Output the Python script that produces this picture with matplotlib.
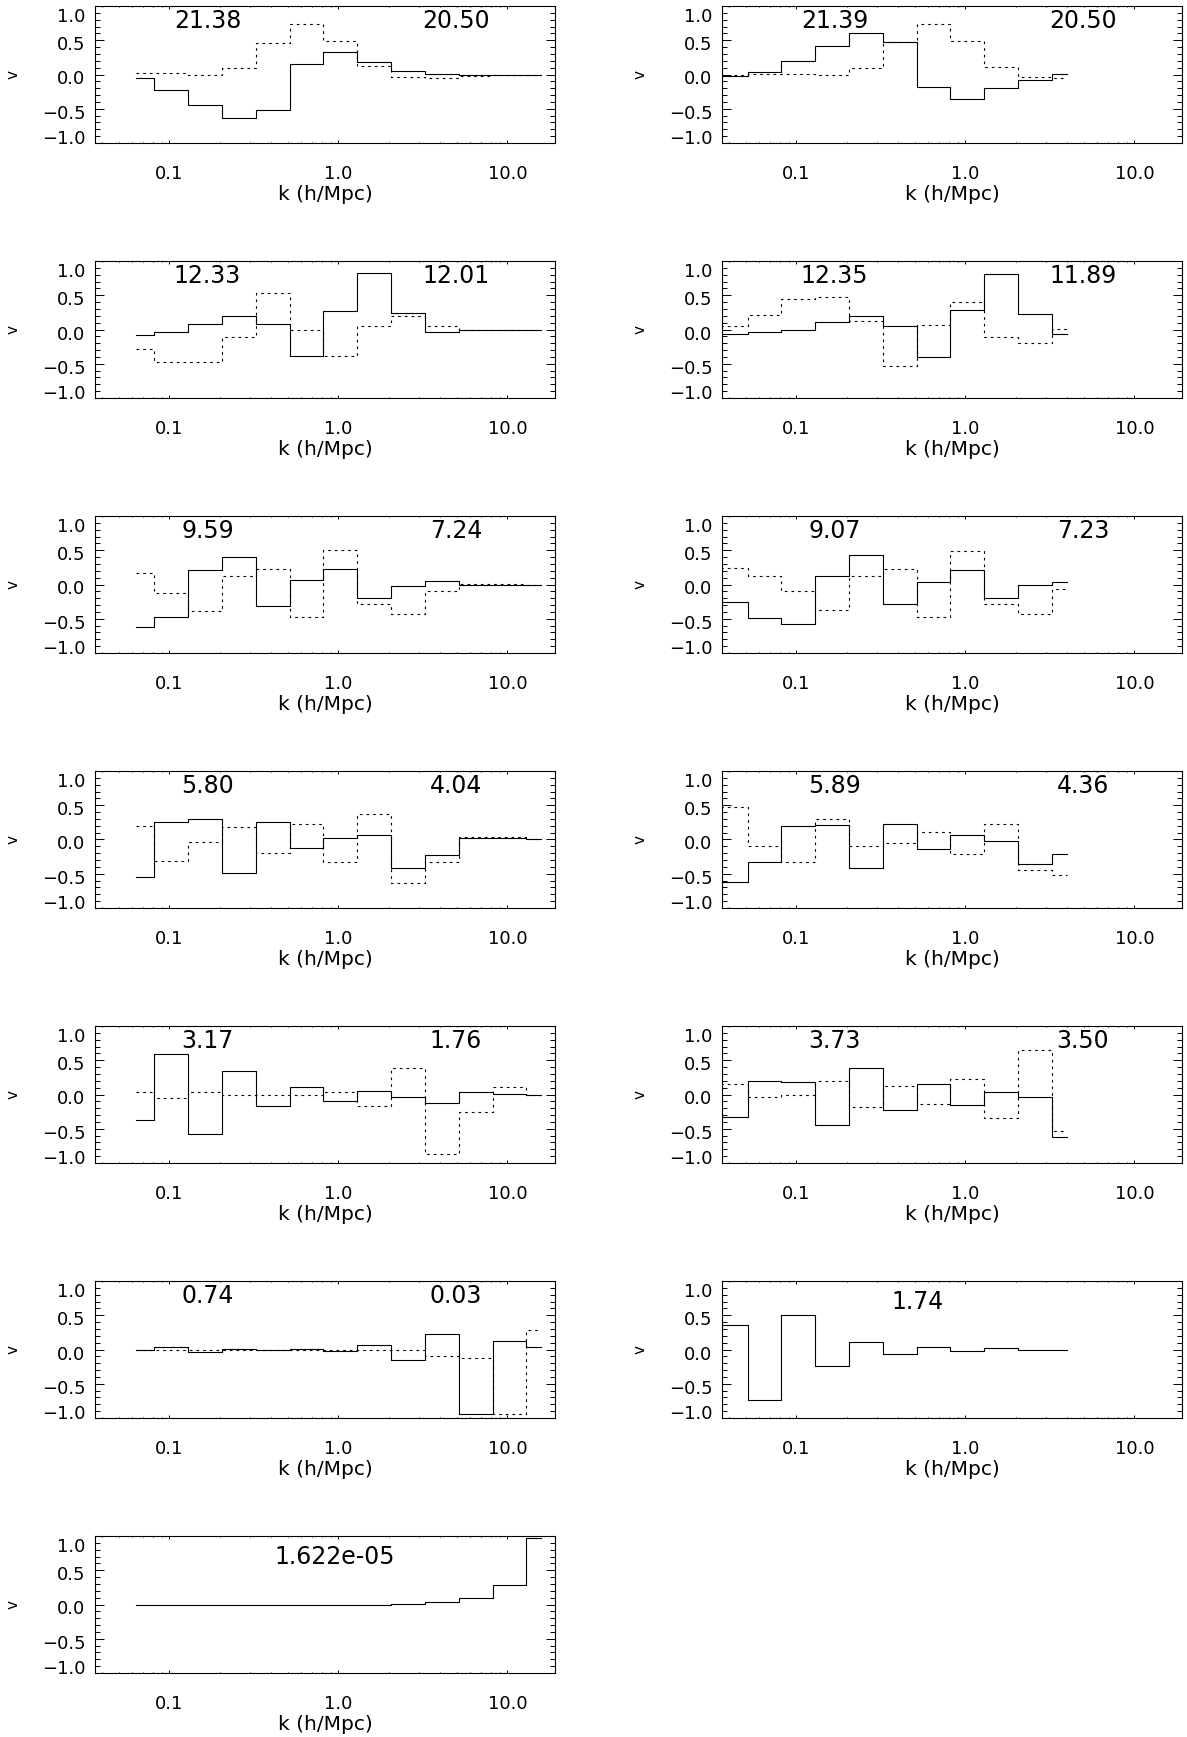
import numpy as np
import matplotlib
matplotlib.use('Agg')
import matplotlib.pyplot as plt
from matplotlib.ticker import FixedLocator, FixedFormatter, LogLocator, MultipleLocator, NullFormatter
from matplotlib.transforms import ScaledTranslation

nan = np.nan

# k bins (h/Mpc), left and right column runs
k_left = [0.0631, 0.1, 0.1585, 0.2512, 0.3981, 0.631, 1.0, 1.585, 2.512, 3.981, 6.31, 10.0, 15.85]
k_right = [0.0251, 0.0398, 0.0631, 0.1, 0.1585, 0.2512, 0.3981, 0.631, 1.0, 1.585, 2.512, 3.981]

# row 1
p1_solid = [-0.05, -0.23, -0.44, -0.64, -0.52, 0.15, 0.33, 0.18, 0.05, 0.01, -0.01, 0.0, 0.0]
p1_dotted = [0.02, 0.02, -0.01, 0.10, 0.46, 0.73, 0.49, 0.12, -0.04, -0.05, -0.02, 0.0, 0.0]
p2_solid = [nan, -0.02, 0.03, 0.20, 0.41, 0.61, 0.48, -0.18, -0.36, -0.20, -0.08, 0.01]
p2_dotted = [nan, 0.0, 0.01, 0.01, -0.01, 0.10, 0.47, 0.73, 0.49, 0.11, -0.03, -0.05]
# row 2
p3_solid = [-0.08, -0.03, 0.08, 0.20, 0.08, -0.39, 0.27, 0.82, 0.24, -0.04, -0.01, 0.0, 0.0]
p3_dotted = [-0.29, -0.47, -0.47, -0.11, 0.53, -0.01, -0.39, 0.05, 0.19, 0.05, 0.0, 0.0, 0.0]
p4_solid = [nan, -0.07, -0.03, 0.0, 0.11, 0.20, 0.05, -0.40, 0.29, 0.81, 0.22, -0.07]
p4_dotted = [nan, 0.05, 0.21, 0.44, 0.48, 0.12, -0.54, 0.06, 0.40, -0.11, -0.20, 0.01]
# row 3
p5_solid = [-0.62, -0.47, 0.21, 0.40, -0.32, 0.07, 0.22, -0.20, -0.02, 0.05, -0.01, 0.0, 0.0]
p5_dotted = [0.17, -0.13, -0.38, 0.13, 0.22, -0.48, 0.50, -0.28, -0.43, -0.10, 0.01, 0.01, 0.0]
p6_solid = [nan, -0.26, -0.49, -0.57, 0.12, 0.43, -0.28, 0.04, 0.21, -0.20, 0.0, 0.04]
p6_dotted = [nan, 0.24, 0.13, -0.09, -0.37, 0.12, 0.23, -0.48, 0.49, -0.28, -0.43, -0.07]
# row 4
p7_solid = [-0.55, 0.25, 0.30, -0.49, 0.25, -0.12, 0.02, 0.07, -0.41, -0.22, 0.02, 0.02, 0.0]
p7_dotted = [0.20, -0.31, -0.03, 0.18, -0.19, 0.22, -0.33, 0.37, -0.63, -0.33, 0.03, 0.03, 0.0]
p8_solid = [nan, -0.62, -0.33, 0.19, 0.21, -0.41, 0.23, -0.14, 0.07, -0.02, -0.36, -0.21]
p8_dotted = [nan, 0.48, -0.09, -0.33, 0.30, -0.10, -0.05, 0.11, -0.21, 0.23, -0.44, -0.52]
# row 5
p9_solid = [-0.37, 0.59, -0.57, 0.35, -0.17, 0.11, -0.10, 0.05, -0.04, -0.12, 0.03, 0.01, 0.0]
p9_dotted = [0.04, -0.05, 0.04, 0.0, -0.01, -0.01, 0.04, -0.17, 0.38, -0.87, -0.26, 0.11, 0.0]
p10_solid = [nan, -0.33, 0.19, 0.18, -0.44, 0.38, -0.22, 0.15, -0.15, 0.04, -0.03, -0.62]
p10_dotted = [nan, 0.15, -0.04, 0.0, 0.20, -0.18, 0.12, -0.14, 0.23, -0.35, 0.65, -0.53]
# row 6
p11_solid = [-0.01, 0.03, -0.03, 0.01, -0.01, 0.01, -0.02, 0.06, -0.15, 0.23, -0.94, 0.12, 0.04]
p11_dotted = [0.0, 0.0, 0.0, 0.0, 0.0, 0.0, 0.0, -0.01, -0.01, -0.09, -0.13, -0.94, 0.28]
p12_solid = [nan, 0.36, -0.73, 0.50, -0.24, 0.11, -0.06, 0.03, -0.02, 0.02, 0.0, 0.0]
# row 7
p13_solid = [0.0, 0.0, 0.0, 0.0, 0.0, 0.0, 0.0, 0.0, 0.01, 0.03, 0.09, 0.28, 0.97]

# numbers written in each panel
labels_a = ['21.38', '21.39', '12.33', '12.35', '9.59', '9.07', '5.80', '5.89', '3.17', '3.73', '0.74', '1.74', '1.622e-05']
labels_b = ['20.50', '20.50', '12.01', '11.89', '7.24', '7.23', '4.04', '4.36', '1.76', '3.50', '0.03', None, None]

panels = [
    (k_left, p1_solid, p1_dotted), (k_right, p2_solid, p2_dotted),
    (k_left, p3_solid, p3_dotted), (k_right, p4_solid, p4_dotted),
    (k_left, p5_solid, p5_dotted), (k_right, p6_solid, p6_dotted),
    (k_left, p7_solid, p7_dotted), (k_right, p8_solid, p8_dotted),
    (k_left, p9_solid, p9_dotted), (k_right, p10_solid, p10_dotted),
    (k_left, p11_solid, p11_dotted), (k_right, p12_solid, None),
    (k_left, p13_solid, None),
]

W, H = 1187, 1737
fig = plt.figure(figsize=(W / 100, H / 100), dpi=100)
plt.rcParams['font.family'] = ['DejaVu Sans']

col_x = [95, 722]
ax_w, ax_h = 460, 137
dotted = (0, (2.4, 3.6))

for i, (k, solid, dot) in enumerate(panels):
    row, col = divmod(i, 2)
    top = 6 + 255 * row
    ax = fig.add_axes([col_x[col] / W, 1 - (top + ax_h) / H, ax_w / W, ax_h / H])
    ax.set_xscale('log')
    ax.set_xlim(0.0363, 19.1)
    ax.set_ylim(-1.0, 1.0)

    ax.step(k, solid, where='mid', color='k', lw=0.8)
    if dot is not None:
        ax.step(k, dot, where='mid', color='k', lw=0.8, linestyle=dotted)

    if labels_b[i] is not None:
        ax.text(0.168, 0.672, labels_a[i], ha='center', va='baseline', fontsize=17)
        ax.text(4.95, 0.672, labels_b[i], ha='center', va='baseline', fontsize=17)
    else:
        xpos = 0.52 if i == 11 else 0.95
        ax.text(xpos, 0.584, labels_a[i], ha='center', va='baseline', fontsize=17)

    ax.xaxis.set_major_locator(FixedLocator([0.1, 1.0, 10.0]))
    ax.xaxis.set_major_formatter(FixedFormatter(['0.1', '1.0', '10.0']))
    ax.xaxis.set_minor_locator(LogLocator(base=10, subs=np.arange(2, 10)))
    ax.xaxis.set_minor_formatter(NullFormatter())
    ax.yaxis.set_major_locator(FixedLocator([-1.0, -0.5, 0.0, 0.5, 1.0]))
    ax.yaxis.set_major_formatter(FixedFormatter(['\u22121.0', '\u22120.5', '0.0', '0.5', '1.0']))
    ax.yaxis.set_minor_locator(MultipleLocator(0.1))

    ax.tick_params(axis='both', which='both', direction='in', top=True, right=True,
                   labelsize=13, width=0.7)
    ax.tick_params(axis='x', which='major', length=2.0, pad=15.5)
    ax.tick_params(axis='x', which='minor', length=1.0)
    ax.tick_params(axis='y', which='major', length=6.6, pad=7)
    ax.tick_params(axis='y', which='minor', length=3.3)
    for s in ax.spines.values():
        s.set_linewidth(0.8)

    # IDL-style: end labels pulled inside the box
    shifts = [6, -3, -3, -3, -9]
    for t, dy in zip(ax.yaxis.get_major_ticks(), shifts):
        t.label1.set_transform(t.label1.get_transform() +
                               ScaledTranslation(0, dy / 100, fig.dpi_scale_trans))

    ax.set_xlabel('k (h/Mpc)', fontsize=14.5, labelpad=1.5)
    ax.set_ylabel('v', fontsize=11)
    ax.yaxis.set_label_coords(-0.162, 0.5)

fig.savefig('out.png', dpi=100)
